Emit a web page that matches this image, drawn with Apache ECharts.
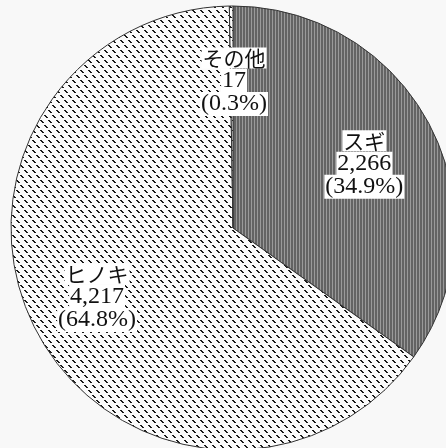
<!DOCTYPE html>
<html>
<head>
<meta charset="utf-8">
<style>
html,body{margin:0;padding:0;background:#f8f8f8;}
#c{width:446px;height:448px;}
</style>
<script src="https://cdn.jsdelivr.net/npm/echarts@6/dist/echarts.min.js"></script>
</head>
<body>
<div id="c"></div>
<script>
var categories = ['スギ', 'ヒノキ', 'その他'];
var values = [2266, 4217, 17];
var valueLabels = ['2,266', '4,217', '17'];
var percentLabels = ['34.9%', '64.8%', '0.3%'];

function stripePattern() {
  var c = document.createElement('canvas');
  c.width = 3; c.height = 4;
  var g = c.getContext('2d');
  g.fillStyle = '#636363'; g.fillRect(0, 0, 3, 4);
  g.fillStyle = '#9a9a9a'; g.fillRect(2, 0, 1, 4);
  return c;
}
function dashPattern() {
  var W = 8, H = 10;
  var c = document.createElement('canvas');
  c.width = W; c.height = H;
  var g = c.getContext('2d');
  g.fillStyle = '#fbfbfb'; g.fillRect(0, 0, W, H);
  g.fillStyle = '#1a1a1a';
  var starts = [[0, 0], [4, 5]];
  starts.forEach(function (s) {
    for (var k = 0; k < 3; k++) {
      for (var w = 0; w < 2; w++) {
        g.fillRect((s[0] + k + w) % W, (s[1] + k) % H, 1, 1);
      }
    }
  });
  return c;
}
var patSugi = {image: stripePattern(), repeat: 'repeat'};
var patHinoki = {image: dashPattern(), repeat: 'repeat'};
var fills = [patSugi, patHinoki, patHinoki];
var offsets = [[30, -12], [-35, 16], [2, -33]];

var font = "'Liberation Serif', 'Noto Sans CJK JP', serif";
var rich = {
  n: {fontFamily: "'Noto Sans CJK JP'", fontSize: 21, lineHeight: 23, color: '#111', backgroundColor: '#fff', padding: [0, 1]},
  v: {fontFamily: font, fontSize: 24, lineHeight: 23, color: '#111', backgroundColor: '#fff', padding: [0, 1]},
  p: {fontFamily: font, fontSize: 24, lineHeight: 23, color: '#111', backgroundColor: '#fff', padding: [0, 1]}
};

var data = categories.map(function (name, i) {
  return {
    name: name,
    value: values[i],
    itemStyle: {color: fills[i]},
    label: {offset: offsets[i]}
  };
});

var chart = echarts.init(document.getElementById('c'));
chart.setOption({
  backgroundColor: '#f8f8f8',
  animation: false,
  series: [{
    type: 'pie',
    center: [233, 228],
    radius: [0, 222],
    startAngle: 90,
    clockwise: true,
    avoidLabelOverlap: false,
    itemStyle: {borderColor: '#333', borderWidth: 1},
    emphasis: {disabled: true},
    labelLine: {show: false},
    label: {
      show: true,
      position: 'inside',
      align: 'center',
      formatter: function (p) {
        var i = p.dataIndex;
        return '{n|' + categories[i] + '}\n{v|' + valueLabels[i] + '}\n{p|(' + percentLabels[i] + ')}';
      },
      rich: rich
    },
    data: data
  }]
});
</script>
</body>
</html>
